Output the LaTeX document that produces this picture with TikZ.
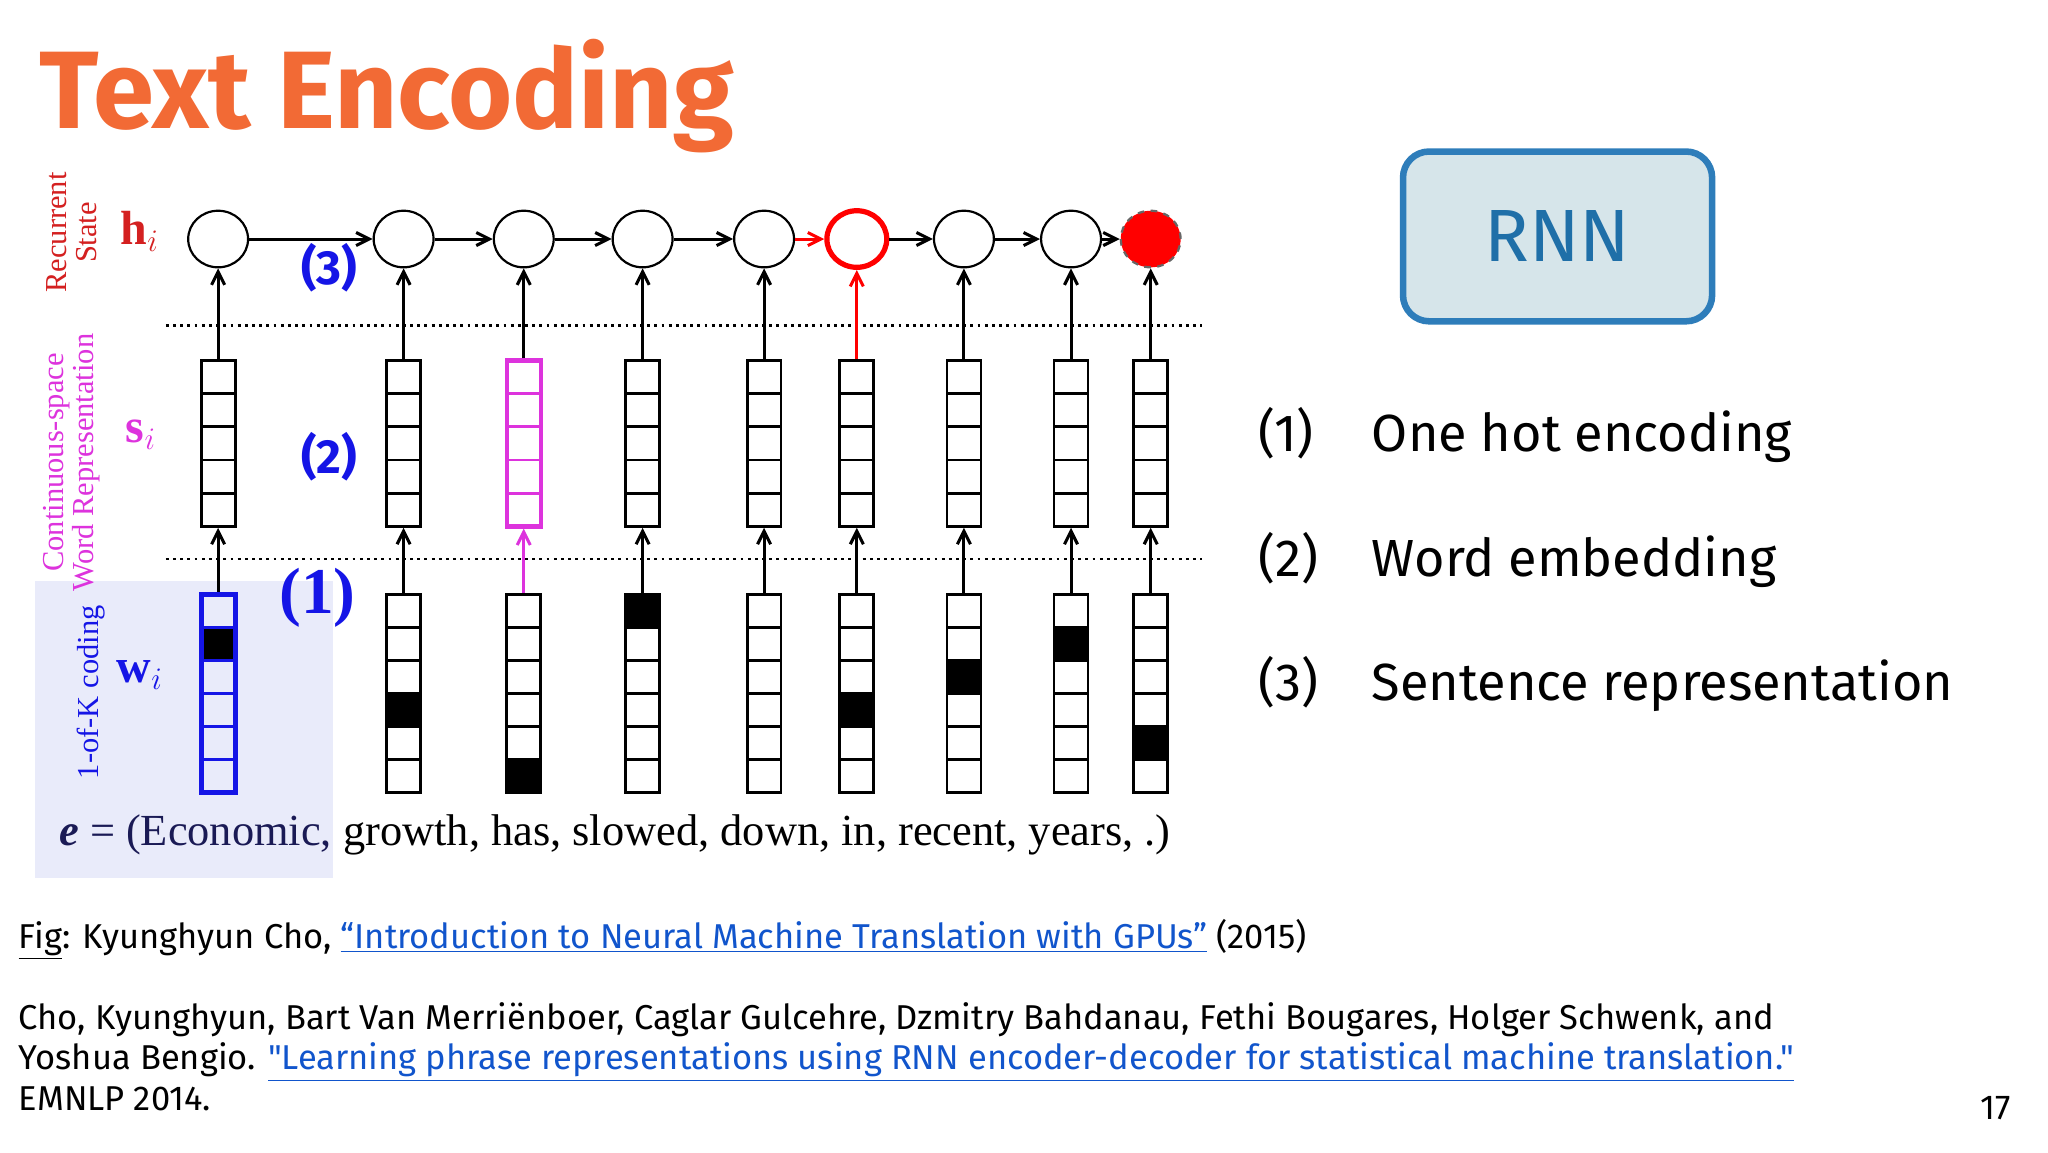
\documentclass[tikz,border=0pt]{standalone}
\usepackage{fontspec}
\setmainfont{Liberation Serif}
\newfontfamily\ui{Fira Sans}
\usetikzlibrary{arrows.meta,shapes.geometric}
\definecolor{ttl}{HTML}{F26A35}
\definecolor{rnnb}{HTML}{2E7DBA}
\definecolor{rnnf}{HTML}{D6E5EA}
\definecolor{rnnt}{HTML}{1F6FA8}
\definecolor{lnk}{HTML}{1155CC}
\definecolor{mag}{HTML}{DD33DD}
\definecolor{bl}{HTML}{1515E6}
\definecolor{rd}{HTML}{D42020}
\definecolor{bgb}{HTML}{E9EBFA}
\definecolor{navy}{HTML}{1A1A55}
\tikzset{
 hc/.style={ellipse,draw,line width=1pt,minimum width=27.5pt,minimum height=26pt,inner sep=0pt},
 hred/.style={hc,draw=red,line width=2.4pt},
 hfill/.style={hc,fill=red,draw=black!60,dashed},
 sbox/.style={draw,line width=1.3pt,minimum width=15.6pt,minimum height=76.2pt,inner sep=0pt},
 smag/.style={sbox,draw=mag,line width=2pt},
 wbox/.style={draw,line width=1.3pt,minimum width=15.6pt,minimum height=91.2pt,inner sep=0pt},
 wblue/.style={wbox,draw=bl,line width=2.2pt},
 arr/.style={-{Straight Barb[length=6pt,width=6pt]},line width=1.4pt},
 side/.style={rotate=90,align=center,font=\fontsize{14}{14}\selectfont},
 lst/.style={anchor=base west,inner sep=0pt,font=\ui\fontsize{24}{28}\selectfont},
 foot/.style={anchor=base west,font=\ui\fontsize{15.85}{18}\selectfont},
}
\begin{document}
\begin{tikzpicture}[x=0.6pt,y=-0.6pt]
\fill[white] (0,0) rectangle (1568,882);
\useasboundingbox (0,0) rectangle (1568,882);
\node[anchor=base west,inner sep=0pt,text=ttl,font=\ui\bfseries\fontsize{50.6}{60}\selectfont] (title) at (30,98) {Text Encoding};
% diagram
\fill[bgb] (27,445) rectangle (255,672);
\draw[dotted,line width=1.3pt] (127,249) -- (920,249);
\draw[dotted,line width=1.3pt] (127,428) -- (920,428);
\node[side,text=rd] (lr) at (55,178) {Recurrent\\State};
\node[side,text=mag] (lc) at (55,354) {Continuous-space\\Word Representation};
\node[side,text=bl] (lk) at (70,530) {1-of-K coding};
\node[text=rd,font=\bfseries\fontsize{22}{22}\selectfont] (hi) at (107,177) {h$_i$};
\node[text=mag,font=\bfseries\fontsize{22}{22}\selectfont] (si) at (108,333) {s$_i$};
\node[text=bl,font=\bfseries\fontsize{22}{22}\selectfont] (wi) at (107,517) {w$_i$};
\node[text=bl,font=\ui\bfseries\fontsize{22}{22}\selectfont] (n3) at (252,205) {(3)};
\node[text=bl,font=\ui\bfseries\fontsize{22}{22}\selectfont] (n2) at (252,350) {(2)};
\node[text=bl,font=\bfseries\fontsize{30}{30}\selectfont] (n1) at (243,458) {(1)};
\foreach \i/\x/\k/\hs/\ss/\ws/\cs/\cw/\ca/\cb in {1/167/2/hc/sbox/wblue/black/bl/black/black,2/309/4/hc/sbox/wbox/black/black/black/black,3/401/6/hc/smag/wbox/mag/black/mag/black,4/492/1/hc/sbox/wbox/black/black/black/black,5/585/0/hc/sbox/wbox/black/black/black/black,6/656/4/hred/sbox/wbox/black/black/black/red,7/738/3/hc/sbox/wbox/black/black/black/black,8/820/2/hc/sbox/wbox/black/black/black/black,9/881/5/hfill/sbox/wbox/black/black/black/black}{
 \ifnum\k>0 \fill ({\x-13},{455+(\k-1)*25.33}) rectangle ++(26,25.33); \fi
 \node[\hs] (h\i) at (\x,183) {};
 \node[\ss] (s\i) at (\x,339.5) {};
 \node[\ws] (w\i) at (\x,531) {};
 \foreach \r in {1,...,4} \draw[line width=1.3pt,draw=\cs] ({\x-13},{276+\r*25.4}) -- ++(26,0);
 \foreach \r in {1,...,5} \draw[line width=1.3pt,draw=\cw] ({\x-13},{455+\r*25.33}) -- ++(26,0);
 \draw[arr,draw=\ca] (w\i) -- (s\i);
 \draw[arr,draw=\cb] (s\i) -- (h\i);
}
\foreach \i/\j in {1/2,2/3,3/4,4/5,6/7,7/8,8/9} \draw[arr] (h\i) -- (h\j);
\draw[arr,red] (h5) -- (h6);
\node[anchor=base west,inner sep=0pt,font=\fontsize{20.4}{22}\selectfont] (e) at (45,647) {\textcolor{navy}{\textbf{\textit{e}} = (Economic,} growth, has, slowed, down, in, recent, years, .)};
% right side
\node[draw=rnnb,fill=rnnf,line width=3pt,rounded corners=12pt,minimum width=142pt,minimum height=78pt,text=rnnt,font=\ui\fontsize{34}{40}\selectfont] (rnn) at (1192.5,181) {RNN};
\node[lst] (l1) at (963,346) {(1)};
\node[lst] (t1) at (1050,346) {One hot encoding};
\node[lst] (l2) at (963,441) {(2)};
\node[lst] (t2) at (1050,441) {Word embedding};
\node[lst] (l3) at (963,536) {(3)};
\node[lst] (t3) at (1050,536) {Sentence representation};
% footer
\node[foot,inner sep=0pt] (f1) at (14,726) {\underline{Fig}: Kyunghyun Cho, \textcolor{lnk}{\underline{“Introduction to Neural Machine Translation with GPUs”}} (2015)};
\node[foot,inner sep=0pt] (f2) at (14,788) {Cho, Kyunghyun, Bart Van Merriënboer, Caglar Gulcehre, Dzmitry Bahdanau, Fethi Bougares, Holger Schwenk, and};
\node[foot,inner sep=0pt] (f3) at (14,819) {Yoshua Bengio. \textcolor{lnk}{\underline{"Learning phrase representations using RNN encoder-decoder for statistical machine translation."}}};
\node[foot,inner sep=0pt] (f4) at (14,850) {EMNLP 2014.};
\node[foot,inner sep=0pt] (pg) at (1516,857) {17};
\end{tikzpicture}
\end{document}
